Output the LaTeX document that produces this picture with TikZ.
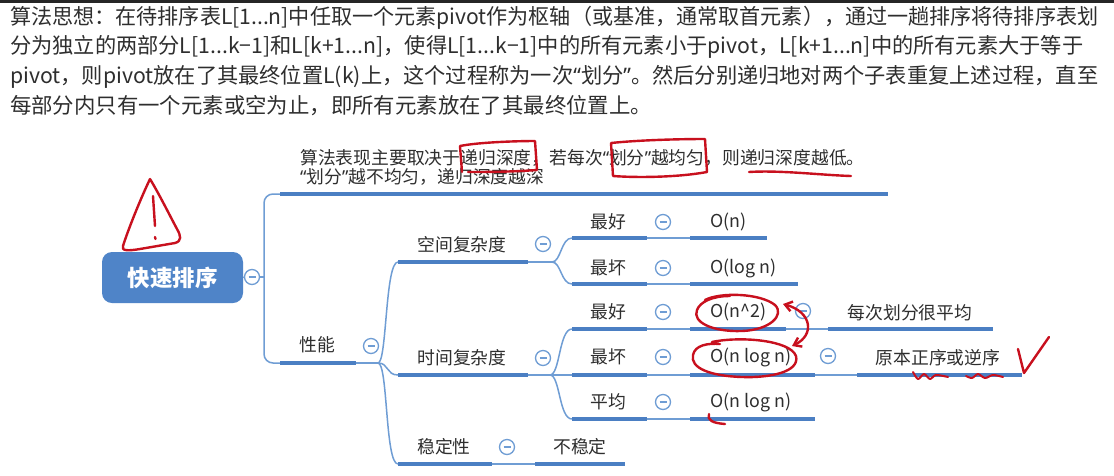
\documentclass[tikz,border=0pt]{standalone}
\usepackage{fontspec}
\usepackage{graphicx}
\setmainfont{Noto Sans CJK SC}
\newfontfamily\qfont{Noto Sans}
\newcommand{\oqt}{{\qfont “}}
\newcommand{\cqt}{{\qfont ”}}
\usetikzlibrary{arrows.meta}
\definecolor{txt}{HTML}{2E2E2E}
\definecolor{lineblue}{HTML}{4B7FC3}
\definecolor{thinblue}{HTML}{6F9DD4}
\definecolor{rootblue}{HTML}{4F84C8}
\definecolor{inkred}{HTML}{C8101E}
\tikzset{
  para/.style={anchor=west, inner sep=0pt, text=txt, font=\fontsize{21.4}{25}\selectfont},
  lbl/.style={inner sep=0pt, text=txt, font=\fontsize{17.8}{20}\selectfont},
  olbl/.style={lbl, anchor=west},
  uline/.style={draw=lineblue, line width=4.5pt},
  conn/.style={draw=thinblue, line width=1.5pt},
  fold/.style={circle, draw=thinblue, fill=white, line width=1.3pt, minimum size=15pt, inner sep=0pt,
    path picture={\draw[thinblue, line width=1.3pt] ([xshift=-3.5pt]path picture bounding box.center) -- ([xshift=3.5pt]path picture bounding box.center);}},
  ink/.style={draw=inkred, line width=2.4pt, line cap=round, line join=round},
}
\begin{document}
\begin{tikzpicture}[x=1pt,y=-1pt]
\useasboundingbox (0,0) rectangle (1114,475);
\fill[white] (0,0) rectangle (1114,475);
\fill[black!85] (0,0) rectangle (1114,3);

% paragraph
\node[para] (p1) at (10,17.5) {\resizebox{1088pt}{\height}{算法思想：在待排序表L[1...n]中任取一个元素pivot作为枢轴（或基准，通常取首元素），通过一趟排序将待排序表划}};
\node[para] (p2) at (10,47) {\resizebox{1073pt}{\height}{分为独立的两部分L[1...k−1]和L[k+1...n]，使得L[1...k−1]中的所有元素小于pivot，L[k+1...n]中的所有元素大于等于}};
\node[para] (p3) at (10,76.5) {\resizebox{1088pt}{\height}{pivot，则pivot放在了其最终位置L(k)上，这个过程称为一次\oqt 划分\cqt 。然后分别递归地对两个子表重复上述过程，直至}};
\node[para] (p4) at (10,106) {每部分内只有一个元素或空为止，即所有元素放在了其最终位置上。};

% root
\node[fill=rootblue, rounded corners=10pt, minimum width=141pt, minimum height=51pt, inner sep=0pt, text=white, font=\fontsize{22.5}{26}\selectfont\bfseries] (root) at (172.5,277.5) {快速排序};
\node[fold] (f0) at (252,277) {};
\coordinate (t0) at (264,277);
\draw[conn] (root.east) -- (f0.west);
\draw[conn] (f0.east) -- (t0);

% top branch
\coordinate (a1) at (280,194);
\coordinate (a2) at (888,194);
\node[lbl, anchor=west] (top1) at (300,158) {算法表现主要取决于递归深度，若每次\oqt 划分\cqt 越均匀，则递归深度越低。};
\node[lbl, anchor=west] (top2) at (300,177) {\oqt 划分\cqt 越不均匀，递归深度越深};
\draw[conn, rounded corners=9pt] (t0) |- (a1);
\draw[uline] (a1) -- (a2);

% 性能
\coordinate (b1) at (280,363);
\coordinate (b2) at (356,363);
\coordinate (pc) at (378,363);
\node[lbl] (xn) at (317,345) {性能};
\node[fold] (f1) at (371,346) {};
\draw[conn, rounded corners=9pt] (t0) |- (b1);
\draw[uline] (b1) -- (b2);
\draw[conn] (b2) -- (pc);

% 空间复杂度
\coordinate (c1) at (398,262);
\coordinate (c2) at (528,262);
\coordinate (c3) at (552,262);
\node[lbl] (kj) at (462,245) {空间复杂度};
\node[fold] (f2) at (543,244) {};
\draw[conn] (pc) .. controls (387,363) and (385,262) .. (c1);
\draw[uline] (c1) -- (c2);
\draw[conn] (c2) -- (c3);

\coordinate (e1) at (572,238);
\coordinate (e2) at (647,238);
\coordinate (e3) at (690,238);
\coordinate (e4) at (767,238);
\node[lbl] (kb) at (608,222) {最好};
\node[fold] (f3) at (663,222) {};
\node[olbl] (kbv) at (710,222) {O(n)};
\draw[conn] (c3) .. controls (561,262) and (561,238) .. (e1);
\draw[uline] (e1) -- (e2);
\draw[conn] (e2) -- (e3);
\draw[uline] (e3) -- (e4);

\coordinate (g1) at (572,284);
\coordinate (g2) at (647,284);
\coordinate (g3) at (690,284);
\coordinate (g4) at (798,284);
\node[lbl] (kw) at (608,268) {最坏};
\node[fold] (f4) at (663,268) {};
\node[olbl] (kwv) at (710,268) {O(log n)};
\draw[conn] (c3) .. controls (561,262) and (561,284) .. (g1);
\draw[uline] (g1) -- (g2);
\draw[conn] (g2) -- (g3);
\draw[uline] (g3) -- (g4);

% 时间复杂度
\coordinate (d1) at (398,375);
\coordinate (d2) at (528,375);
\coordinate (d3) at (550,375);
\node[lbl] (sj) at (462,358) {时间复杂度};
\node[fold] (f5) at (543,358) {};
\draw[conn] (pc) .. controls (389,363) and (386,375) .. (d1);
\draw[uline] (d1) -- (d2);
\draw[conn] (d2) -- (d3);

\coordinate (h1) at (572,329);
\coordinate (h2) at (647,329);
\coordinate (h3) at (690,329);
\coordinate (h4) at (786,329);
\coordinate (h5) at (828,329);
\coordinate (h6) at (993,329);
\node[lbl] (sb) at (608,312) {最好};
\node[fold] (f6) at (663,312) {};
\node[olbl] (sbv) at (710,312) {O(n\^{}2)};
\node[fold] (f7) at (803,311) {};
\node[lbl] (sbr) at (910,313) {每次划分很平均};
\draw[conn] (d3) .. controls (560,375) and (559,329) .. (h1);
\draw[uline] (h1) -- (h2);
\draw[conn] (h2) -- (h3);
\draw[uline] (h3) -- (h4);
\draw[conn] (h4) -- (h5);
\draw[uline] (h5) -- (h6);

\coordinate (i1) at (572,375);
\coordinate (i2) at (647,375);
\coordinate (i3) at (690,375);
\coordinate (i4) at (815,375);
\coordinate (i5) at (857,375);
\coordinate (i6) at (1022,375);
\node[lbl] (sw) at (608,357) {最坏};
\node[fold] (f8) at (663,357) {};
\node[olbl] (swv) at (710,357) {O(n log n)};
\node[fold] (f9) at (828,356) {};
\node[lbl] (swr) at (938,358) {原本正序或逆序};
\draw[conn] (d3) -- (i1);
\draw[uline] (i1) -- (i2);
\draw[conn] (i2) -- (i3);
\draw[uline] (i3) -- (i4);
\draw[conn] (i4) -- (i5);
\draw[uline] (i5) -- (i6);

\coordinate (j1) at (572,419);
\coordinate (j2) at (647,419);
\coordinate (j3) at (690,419);
\coordinate (j4) at (815,419);
\node[lbl] (sp) at (608,402) {平均};
\node[fold] (f10) at (663,402) {};
\node[olbl] (spv) at (710,402) {O(n log n)};
\draw[conn] (d3) .. controls (560,375) and (559,419) .. (j1);
\draw[uline] (j1) -- (j2);
\draw[conn] (j2) -- (j3);
\draw[uline] (j3) -- (j4);

% 稳定性
\coordinate (k1) at (398,464);
\coordinate (k2) at (492,464);
\coordinate (k3) at (535,464);
\coordinate (k4) at (625,464);
\node[lbl] (wd) at (444,447) {稳定性};
\node[fold] (f11) at (507,447) {};
\node[lbl] (wdv) at (580,447) {不稳定};
\draw[conn] (pc) .. controls (388,363) and (385,464) .. (k1);
\draw[uline] (k1) -- (k2);
\draw[conn] (k2) -- (k3);
\draw[uline] (k3) -- (k4);

% red ink annotations
\draw[ink] (150,179) .. controls (140,200) and (128,230) .. (123,246) .. controls (121,251) and (128,251) .. (140,249) -- (175,243) .. controls (182,241) and (181,236) .. (177,229) .. controls (168,212) and (158,192) .. (150,179);
\draw[ink] (153,196) -- (155,226);
\draw[ink] (155,237) -- (155.5,239);

\draw[ink] (462,172) -- (460,146) .. controls (480,142) and (520,141) .. (535,141) -- (537,170) .. controls (510,172) and (485,172) .. (468,172);
\draw[ink] (613,176) -- (611,143) .. controls (640,140) and (680,139) .. (705,139) -- (707,172) .. controls (680,177) and (640,178) .. (613,176);
\draw[ink] (749,172) .. controls (780,170) and (820,175) .. (851,176);

\draw[ink] (705,300) .. controls (720,292) and (760,293) .. (775,305) .. controls (785,315) and (770,330) .. (742,331) .. controls (712,332) and (692,322) .. (697,310) .. controls (700,302) and (712,296) .. (730,296);
\draw[ink] (712,342) .. controls (740,336) and (790,340) .. (796,356) .. controls (800,372) and (770,378) .. (742,377) .. controls (710,376) and (690,368) .. (693,355) .. controls (695,345) and (708,343) .. (720,344);
\draw[ink, {Straight Barb[length=7pt,width=10pt]}-{Straight Barb[length=7pt,width=10pt]}] (783,304) .. controls (812,312) and (815,335) .. (792,346);
\draw[ink] (709,414) .. controls (707,420) and (712,423) .. (725,424);

\draw[ink, line width=2pt] plot[smooth] coordinates {(913,372) (918,379) (924,374) (930,379) (936,375) (948,377)};
\draw[ink, line width=2pt] plot[smooth] coordinates {(966,376) (972,378) (978,374) (985,378) (993,375) (1003,377)};
\draw[ink] (1018,349) -- (1024,373) -- (1049,337);
\end{tikzpicture}
\end{document}
